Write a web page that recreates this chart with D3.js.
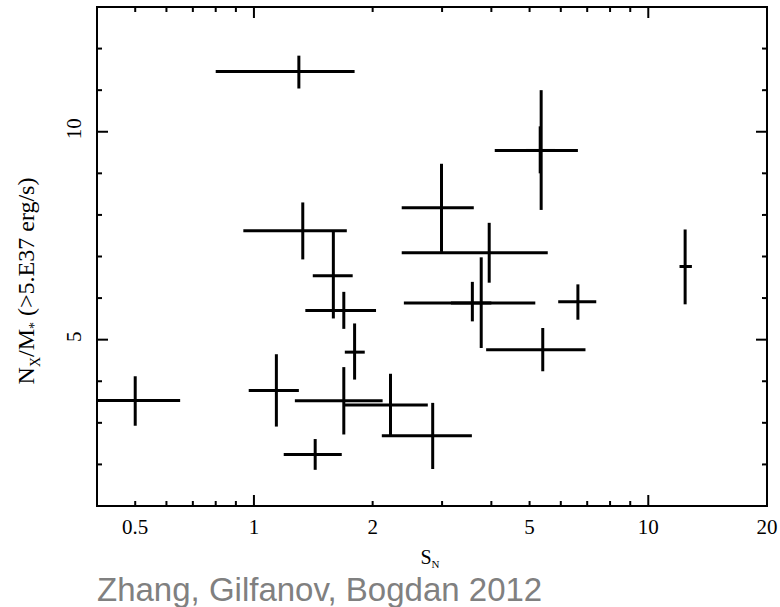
<!DOCTYPE html>
<html>
<head>
<meta charset="utf-8">
<script src="https://cdn.jsdelivr.net/npm/d3@7"></script>
<style>
  html, body { margin: 0; padding: 0; background: #fff; }
  svg { display: block; }
</style>
</head>
<body>
<div id="chart"></div>
<script>
// ---- data ----
const sn     = [0.50, 1.30, 1.33, 1.59, 1.69, 1.80, 1.14, 1.69, 2.22, 2.84, 1.43, 2.99, 3.95, 5.35, 5.32, 3.77, 3.58, 5.40, 6.63, 12.4];
const snLo   = [0.38, 0.80, 0.94, 1.41, 1.35, 1.70, 0.97, 1.27, 1.69, 2.11, 1.19, 2.37, 2.37, 4.08, 4.90, 2.40, 3.16, 3.88, 5.91, 12.0];
const snHi   = [0.65, 1.80, 1.72, 1.78, 2.04, 1.91, 1.30, 2.12, 2.76, 3.57, 1.67, 3.61, 5.56, 6.63, 5.80, 5.17, 4.00, 6.93, 7.38, 12.9];
const nx     = [3.54, 11.45, 7.62, 6.54, 5.70, 4.70, 3.78, 3.53, 3.43, 2.69, 2.24, 8.17, 7.09, 9.55, 9.55, 5.88, 5.88, 4.76, 5.91, 6.76];
const nxLo   = [2.93, 11.04, 6.93, 5.51, 5.26, 4.04, 2.91, 2.72, 2.69, 1.89, 1.87, 7.11, 6.37, 8.12, 9.00, 4.80, 5.44, 4.24, 5.48, 5.85];
const nxHi   = [4.12, 11.83, 8.30, 7.62, 6.15, 5.39, 4.65, 4.34, 4.18, 3.48, 2.61, 9.23, 7.81, 11.00, 10.13, 6.98, 6.39, 5.28, 6.33, 7.65];

const xDomain = [0.4, 20];
const yDomain = [1, 13];
const xMajorTicks = [1, 10];
const xMinorTicks = [0.5, 0.6, 0.7, 0.8, 0.9, 2, 3, 4, 5, 6, 7, 8, 9];
const xTickLabels = [0.5, 1, 2, 5, 10, 20];
const yMajorTicks = [5, 10];
const yMinorTicks = [2, 3, 4, 6, 7, 8, 9, 11, 12];
const yTickLabels = [5, 10];
const caption = "Zhang, Gilfanov, Bogdan 2012";

// ---- layout ----
const W = 780, H = 607;
const L = 97, T = 7, R = 767, B = 506;
const serif = "'Liberation Serif', 'Times New Roman', serif";

const x = d3.scaleLog().domain(xDomain).range([L, R]);
const y = d3.scaleLinear().domain(yDomain).range([B, T]);

const svg = d3.select("#chart").append("svg")
  .attr("width", W).attr("height", H);

svg.append("defs").append("clipPath").attr("id", "plotclip")
  .append("rect").attr("x", L).attr("y", T).attr("width", R - L).attr("height", B - T);

const data = sn.map((v, i) => ({x: v, xl: snLo[i], xh: snHi[i], y: nx[i], yl: nxLo[i], yh: nxHi[i]}));

const marks = svg.append("g").attr("clip-path", "url(#plotclip)")
  .attr("stroke", "#000").attr("stroke-width", 3).attr("stroke-linecap", "butt");

marks.selectAll("line.h").data(data).enter().append("line").attr("class", "h")
  .attr("x1", d => x(d.xl)).attr("x2", d => x(d.xh))
  .attr("y1", d => y(d.y)).attr("y2", d => y(d.y));
marks.selectAll("line.v").data(data).enter().append("line").attr("class", "v")
  .attr("x1", d => x(d.x)).attr("x2", d => x(d.x))
  .attr("y1", d => y(d.yl)).attr("y2", d => y(d.yh));

// ---- frame & ticks ----
const ax = svg.append("g").attr("stroke", "#000").attr("stroke-width", 2).attr("fill", "none");
ax.append("rect").attr("x", L).attr("y", T).attr("width", R - L).attr("height", B - T);

const majLen = 11, minLen = 5;
function xTicks(vals, len) {
  vals.forEach(v => {
    ax.append("line").attr("x1", x(v)).attr("x2", x(v)).attr("y1", B).attr("y2", B - len);
    ax.append("line").attr("x1", x(v)).attr("x2", x(v)).attr("y1", T).attr("y2", T + len);
  });
}
function yTicks(vals, len) {
  vals.forEach(v => {
    ax.append("line").attr("y1", y(v)).attr("y2", y(v)).attr("x1", L).attr("x2", L + len);
    ax.append("line").attr("y1", y(v)).attr("y2", y(v)).attr("x1", R).attr("x2", R - len);
  });
}
xTicks(xMajorTicks, majLen);
xTicks(xMinorTicks, minLen);
yTicks(yMajorTicks, majLen);
yTicks(yMinorTicks, minLen);

// ---- tick labels ----
svg.append("g").selectAll("text").data(xTickLabels).enter().append("text")
  .attr("x", d => x(d)).attr("y", 534)
  .attr("text-anchor", "middle")
  .attr("font-family", serif).attr("font-size", 21).attr("fill", "#000")
  .text(d => String(d));

svg.append("g").selectAll("text").data(yTickLabels).enter().append("text")
  .attr("transform", d => `translate(80.5,${y(d) - 3}) rotate(-90)`)
  .attr("text-anchor", "middle")
  .attr("font-family", serif).attr("font-size", 21).attr("fill", "#000")
  .text(d => String(d));

// ---- axis titles ----
const xt = svg.append("text")
  .attr("x", 430).attr("y", 564).attr("text-anchor", "middle")
  .attr("font-family", serif).attr("font-size", 20).attr("fill", "#000");
xt.append("tspan").text("S");
xt.append("tspan").attr("font-size", 11).attr("dy", 4).text("N");

const yt = svg.append("text")
  .attr("transform", "translate(34,281) rotate(-90)").attr("text-anchor", "middle")
  .attr("font-family", serif).attr("font-size", 24).attr("fill", "#000");
yt.append("tspan").text("N");
yt.append("tspan").attr("font-size", 14).attr("dy", 6).text("X");
yt.append("tspan").attr("dy", -6).text("/M");
yt.append("tspan").attr("font-size", 14).attr("dy", 5).text("*");
yt.append("tspan").attr("dy", -5).text(" (>5.E37 erg/s)");

// ---- caption ----
svg.append("text").attr("x", 97).attr("y", 601)
  .attr("font-family", "'Liberation Sans', Arial, sans-serif").attr("font-size", 33)
  .attr("fill", "#808080").text(caption);
</script>
</body>
</html>
